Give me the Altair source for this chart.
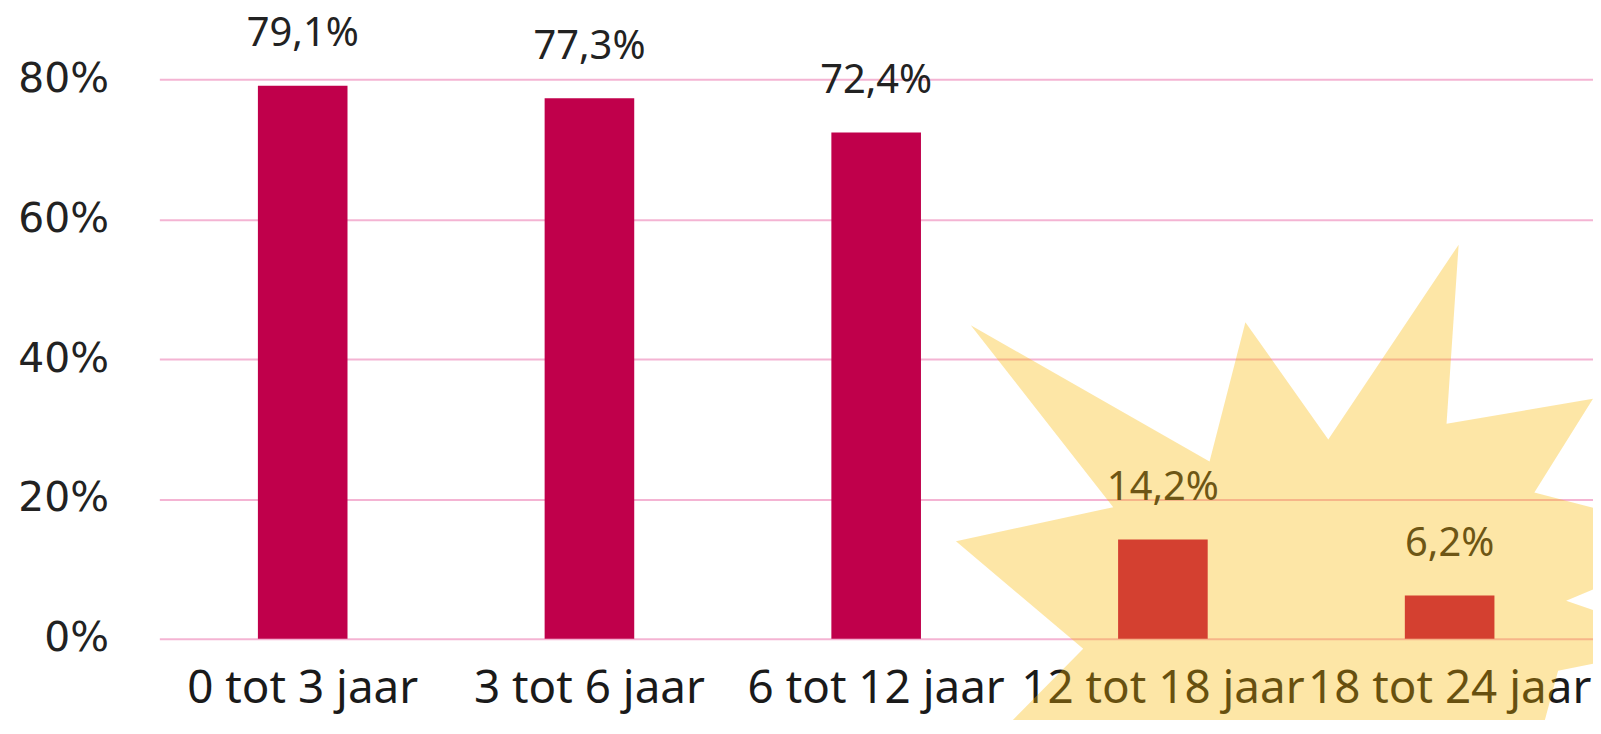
import altair as alt
import pandas as pd

categories = ["0 tot 3 jaar", "3 tot 6 jaar", "6 tot 12 jaar", "12 tot 18 jaar", "18 tot 24 jaar"]
values = [79.1, 77.3, 72.4, 14.2, 6.2]
y_ticks = [0, 20, 40, 60, 80]

df = pd.DataFrame({"cat": categories, "value": values})
decor = pd.DataFrame({"decor": ["star"]})

STAR_PATH = (
    "M -0.700 -0.522 L -0.167 -0.218 L -0.087 -0.529 L 0.098 -0.267 L 0.389 -0.702 "
    "L 0.362 -0.302 L 0.689 -0.358 L 0.558 -0.149 L 0.956 -0.044 L 0.629 0.093 "
    "L 0.911 0.189 L 0.611 0.249 L 0.511 0.622 L 0.356 0.467 L 0.200 0.756 "
    "L -0.022 0.511 L -0.244 0.756 L -0.422 0.489 L -0.756 0.511 L -0.449 0.200 "
    "L -0.733 -0.040 L -0.382 -0.116 Z"
)

x = alt.X(
    "cat:N",
    sort=categories,
    title=None,
    scale=alt.Scale(paddingInner=0.6875, paddingOuter=0.34375),
    axis=alt.Axis(
        labelAngle=0, domain=False, ticks=False, tickSize=0, grid=False,
        labelFont="Noto Sans", labelFontSize=46, labelColor="#1a1a1a",
        labelPadding=64, labelBaseline="alphabetic", labelLimit=0,
        labelOverlap=False,
    ),
)
y = alt.Y(
    "value:Q",
    title=None,
    scale=alt.Scale(domain=[0, 90], nice=False),
    axis=alt.Axis(
        values=y_ticks, labelExpr="datum.value + '%'", domain=False, ticks=False,
        tickSize=0, grid=True, gridColor="#F4B4D3", gridWidth=2,
        labelFont="DejaVu Sans", labelFontSize=41, labelColor="#222222",
        labelPadding=51, labelAlign="right", labelBaseline="middle",
    ),
)

bars = alt.Chart(df).mark_bar(color="#C0004B").encode(x=x, y=y)

labels = alt.Chart(df).transform_calculate(
    lbl="replace(format(datum.value, '.1f'), '.', ',') + '%'"
).mark_text(
    font="Noto Sans", fontSize=40, color="#222222", baseline="alphabetic", dy=-40
).encode(x=x, y=y, text="lbl:N")

star = alt.Chart(decor).mark_point(
    shape=STAR_PATH, filled=True, color="#F9B700", opacity=0.35, strokeWidth=0, size=810000
).encode(x=alt.value(1130), y=alt.value(552))

chart = alt.layer(bars, labels, star).properties(
    width=1440, height=632,
    autosize=alt.AutoSizeParams(type="none"),
    padding={"left": 152, "top": 0, "right": 0, "bottom": 80},
).configure_view(stroke=None)

chart.save("out.html", embed_options={"renderer": "svg", "actions": False})
